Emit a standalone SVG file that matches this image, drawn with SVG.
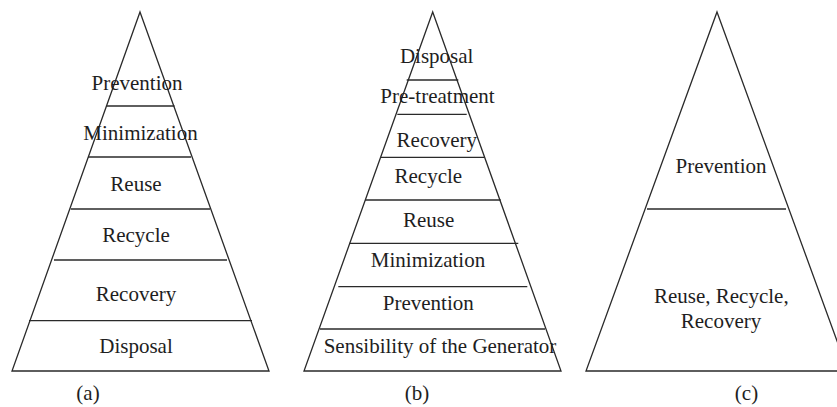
<svg xmlns="http://www.w3.org/2000/svg" width="837" height="407" viewBox="0 0 837 407">
  <style>
    .edge { fill: none; stroke: #2a2a2a; stroke-width: 1.3; stroke-linejoin: miter; }
    .sep { stroke: #2a2a2a; stroke-width: 1.3; }
    .lbl { font-family: "Liberation Serif", "Times New Roman", serif; font-size: 21px; fill: #1e1e1e; text-anchor: middle; }
  </style>
  <rect width="837" height="407" fill="#ffffff"/>

  <!-- Pyramid (a) -->
  <g id="pyramid-a">
    <polygon class="edge" points="140,12 269,371 12,371"/>
    <line class="sep" x1="106.5" y1="106" x2="174.5" y2="106"/>
    <line class="sep" x1="88" y1="157" x2="191" y2="157"/>
    <line class="sep" x1="70.7" y1="209" x2="210" y2="209"/>
    <line class="sep" x1="54" y1="260" x2="227" y2="260"/>
    <line class="sep" x1="29" y1="320.7" x2="252" y2="320.7"/>
    <g id="a-prevention"><text class="lbl" x="137" y="89.5">Prevention</text></g>
    <g id="a-minimization"><text class="lbl" x="140.5" y="140">Minimization</text></g>
    <g id="a-reuse"><text class="lbl" x="136" y="190.5">Reuse</text></g>
    <g id="a-recycle"><text class="lbl" x="136" y="241.7">Recycle</text></g>
    <g id="a-recovery"><text class="lbl" x="136" y="300.5">Recovery</text></g>
    <g id="a-disposal"><text class="lbl" x="136" y="353.3">Disposal</text></g>
    <g id="a-caption"><text class="lbl" x="88" y="399.5">(a)</text></g>
  </g>

  <!-- Pyramid (b) -->
  <g id="pyramid-b">
    <polygon class="edge" points="432.7,12 561,371 304,371"/>
    <line class="sep" x1="406.7" y1="80" x2="458.3" y2="80"/>
    <line class="sep" x1="397.3" y1="114.3" x2="466.7" y2="114.3"/>
    <line class="sep" x1="380.7" y1="157.3" x2="484" y2="157.3"/>
    <line class="sep" x1="365" y1="200" x2="500.7" y2="200"/>
    <line class="sep" x1="349.3" y1="243.3" x2="518.3" y2="243.3"/>
    <line class="sep" x1="338.3" y1="286.7" x2="527.3" y2="286.7"/>
    <line class="sep" x1="320" y1="329" x2="545" y2="329"/>
    <g id="b-disposal"><text class="lbl" x="436.7" y="63.3">Disposal</text></g>
    <g id="b-pretreatment"><text class="lbl" x="437.5" y="103.3">Pre-treatment</text></g>
    <g id="b-recovery"><text class="lbl" x="436.8" y="146.7">Recovery</text></g>
    <g id="b-recycle"><text class="lbl" x="428.3" y="183.3">Recycle</text></g>
    <g id="b-reuse"><text class="lbl" x="428.7" y="226.7">Reuse</text></g>
    <g id="b-minimization"><text class="lbl" x="428" y="266.7">Minimization</text></g>
    <g id="b-prevention"><text class="lbl" x="428.3" y="310">Prevention</text></g>
    <g id="b-sensibility"><text class="lbl" x="440" y="353.3">Sensibility of the Generator</text></g>
    <g id="b-caption"><text class="lbl" x="417" y="399.5">(b)</text></g>
  </g>

  <!-- Pyramid (c) -->
  <g id="pyramid-c">
    <polygon class="edge" points="717,12 848,371 586,371"/>
    <line class="sep" x1="647" y1="209" x2="786" y2="209"/>
    <g id="c-prevention"><text class="lbl" x="721" y="172.7">Prevention</text></g>
    <g id="c-rrr"><text class="lbl" x="721.3" y="303.3">Reuse, Recycle,</text><text class="lbl" x="721" y="328.3">Recovery</text></g>
    <g id="c-caption"><text class="lbl" x="746.5" y="399.5">(c)</text></g>
  </g>

  <g id="connectors"></g>
</svg>
